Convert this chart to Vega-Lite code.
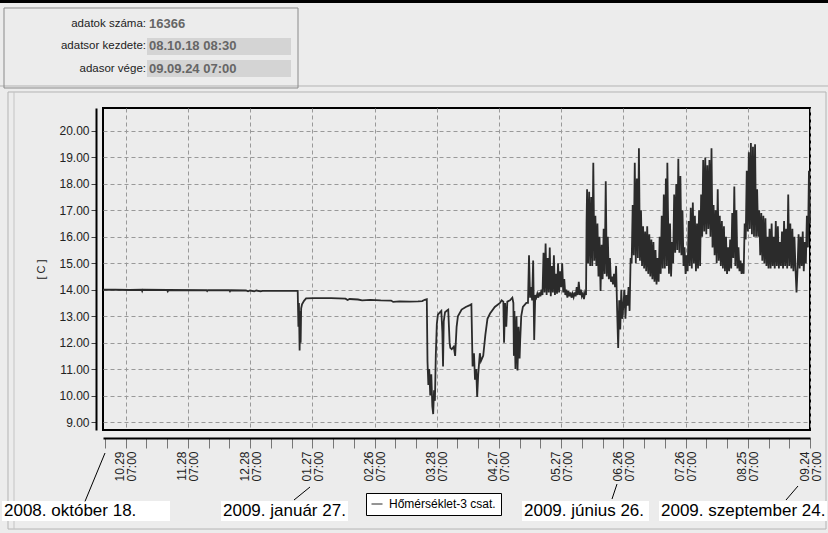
{
  "$schema": "https://vega.github.io/schema/vega-lite/v6.json",
  "width": 707,
  "height": 322,
  "autosize": {"type": "none"},
  "padding": {"left": 103, "top": 108, "right": 18, "bottom": 103},
  "background": "#ececec",
  "config": {
    "font": "Liberation Sans",
    "view": {"stroke": "#000000", "strokeWidth": 2, "fill": "#ececec"}
  },
  "data": {"values": [{}]},
  "layer": [
    {
      "mark": {"type": "rect", "fill": "transparent", "stroke": "#b4b4b4", "strokeWidth": 1},
      "encoding": {
        "x": {"datum": 1220360445000, "type": "temporal"}, "x2": {"datum": 1254442236000},
        "y": {"datum": 21.474, "type": "quantitative"}, "y2": {"datum": 4.955}
      }
    },
    {
      "mark": {"type": "rule", "color": "#c4c4c4", "strokeWidth": 1},
      "encoding": {
        "x": {"datum": 1220610434000, "type": "temporal"},
        "y": {"datum": 21.474, "type": "quantitative"}, "y2": {"datum": 4.955}
      }
    },
    {
      "data": {
        "format": {"parse": {"t": "utc:'%Y-%m-%d %H'"}},
        "values": [
          {"t":"2008-10-18 09","v":14.00},{"t":"2008-10-24 07","v":14.00},{"t":"2008-10-31 07","v":13.99},
          {"t":"2008-11-06 00","v":14.00},{"t":"2008-11-06 06","v":13.95},{"t":"2008-11-06 12","v":14.00},
          {"t":"2008-11-18 06","v":13.99},{"t":"2008-11-18 14","v":13.94},{"t":"2008-11-18 22","v":13.99},
          {"t":"2008-12-07 06","v":13.98},{"t":"2008-12-07 14","v":13.95},{"t":"2008-12-07 22","v":13.98},
          {"t":"2008-12-18 06","v":13.98},{"t":"2008-12-18 14","v":13.94},{"t":"2008-12-18 22","v":13.98},
          {"t":"2008-12-26 07","v":13.97},{"t":"2008-12-27 07","v":13.94},{"t":"2008-12-28 07","v":13.97},
          {"t":"2008-12-30 07","v":13.94},{"t":"2008-12-31 07","v":13.97},{"t":"2009-01-02 07","v":13.94},
          {"t":"2009-01-03 07","v":13.96},{"t":"2009-01-12 07","v":13.96},{"t":"2009-01-20 06","v":13.96},
          {"t":"2009-01-20 14","v":12.6},{"t":"2009-01-20 20","v":13.5},{"t":"2009-01-21 04","v":11.7},
          {"t":"2009-01-21 10","v":13.2},{"t":"2009-01-21 16","v":12.0},{"t":"2009-01-21 22","v":13.3},
          {"t":"2009-01-22 08","v":13.45},{"t":"2009-01-23 07","v":13.58},{"t":"2009-01-24 07","v":13.67},
          {"t":"2009-01-28 07","v":13.68},{"t":"2009-02-05 07","v":13.68},{"t":"2009-02-12 07","v":13.66},
          {"t":"2009-02-13 07","v":13.61},{"t":"2009-02-14 07","v":13.65},{"t":"2009-02-18 07","v":13.63},
          {"t":"2009-02-20 07","v":13.60},{"t":"2009-02-24 07","v":13.62},{"t":"2009-03-01 07","v":13.60},
          {"t":"2009-03-06 07","v":13.59},{"t":"2009-03-07 07","v":13.54},{"t":"2009-03-10 07","v":13.56},
          {"t":"2009-03-15 07","v":13.55},{"t":"2009-03-19 07","v":13.56},{"t":"2009-03-21 07","v":13.57},
          {"t":"2009-03-22 12","v":13.62},{"t":"2009-03-23 12","v":13.64},
          {"t":"2009-03-23 20","v":11.3},{"t":"2009-03-24 06","v":10.4},{"t":"2009-03-24 16","v":11.0},
          {"t":"2009-03-25 04","v":10.0},{"t":"2009-03-25 16","v":10.8},{"t":"2009-03-26 04","v":9.6},
          {"t":"2009-03-26 14","v":9.3},{"t":"2009-03-27 00","v":10.2},{"t":"2009-03-27 10","v":9.8},
          {"t":"2009-03-27 20","v":11.5},{"t":"2009-03-28 08","v":12.7},{"t":"2009-03-28 20","v":13.05},
          {"t":"2009-03-29 12","v":13.12},{"t":"2009-03-30 12","v":13.2},{"t":"2009-03-31 00","v":12.4},
          {"t":"2009-03-31 08","v":11.1},{"t":"2009-03-31 16","v":12.8},{"t":"2009-04-01 07","v":13.15},
          {"t":"2009-04-02 07","v":13.22},{"t":"2009-04-02 20","v":13.25},{"t":"2009-04-03 12","v":12.0},
          {"t":"2009-04-03 20","v":11.8},{"t":"2009-04-04 12","v":11.75},{"t":"2009-04-05 12","v":11.85},
          {"t":"2009-04-06 04","v":11.5},{"t":"2009-04-06 21","v":12.6},{"t":"2009-04-07 12","v":13.0},
          {"t":"2009-04-09 07","v":13.25},{"t":"2009-04-11 07","v":13.35},{"t":"2009-04-13 07","v":13.42},
          {"t":"2009-04-14 00","v":13.45},{"t":"2009-04-14 14","v":11.1},{"t":"2009-04-15 06","v":11.6},
          {"t":"2009-04-15 18","v":10.6},{"t":"2009-04-16 08","v":11.0},{"t":"2009-04-16 19","v":9.95},
          {"t":"2009-04-17 07","v":10.8},{"t":"2009-04-18 02","v":11.6},{"t":"2009-04-18 14","v":11.3},
          {"t":"2009-04-19 17","v":11.5},{"t":"2009-04-20 18","v":12.3},{"t":"2009-04-21 18","v":12.9},
          {"t":"2009-04-23 00","v":13.1},{"t":"2009-04-25 07","v":13.35},{"t":"2009-04-27 19","v":13.5},
          {"t":"2009-04-28 14","v":13.6},{"t":"2009-04-29 10","v":13.55},{"t":"2009-04-29 18","v":12.0},
          {"t":"2009-04-30 06","v":13.5},{"t":"2009-04-30 20","v":12.6},{"t":"2009-05-01 08","v":13.55},
          {"t":"2009-05-02 15","v":13.6},{"t":"2009-05-03 18","v":13.7},{"t":"2009-05-04 06","v":13.5},
          {"t":"2009-05-04 12","v":11.5},{"t":"2009-05-04 18","v":13.2},{"t":"2009-05-05 06","v":11.0},
          {"t":"2009-05-05 18","v":13.0},{"t":"2009-05-06 06","v":10.95},{"t":"2009-05-06 18","v":12.6},
          {"t":"2009-05-07 06","v":11.4},{"t":"2009-05-07 13","v":12.1},{"t":"2009-05-08 01","v":13.0},
          {"t":"2009-05-08 20","v":13.35},{"t":"2009-05-10 12","v":13.5},{"t":"2009-05-11 07","v":13.5},
          {"t":"2009-05-11 19","v":15.3},{"t":"2009-05-12 07","v":13.7},{"t":"2009-05-12 19","v":14.1},
          {"t":"2009-05-13 07","v":13.6},{"t":"2009-05-13 19","v":15.1},{"t":"2009-05-14 07","v":12.1},
          {"t":"2009-05-14 19","v":13.8},
          {"t":"2009-05-15 07","v":13.7},{"t":"2009-05-15 19","v":13.85},{"t":"2009-05-16 07","v":13.7},{"t":"2009-05-16 19","v":13.9},
          {"t":"2009-05-17 07","v":13.75},{"t":"2009-05-17 19","v":14.0},{"t":"2009-05-18 07","v":13.8},{"t":"2009-05-18 19","v":15.4},
          {"t":"2009-05-19 07","v":13.9},{"t":"2009-05-19 19","v":15.75},{"t":"2009-05-20 07","v":13.8},{"t":"2009-05-20 19","v":15.2},
          {"t":"2009-05-21 07","v":13.9},{"t":"2009-05-21 19","v":15.6},{"t":"2009-05-22 07","v":13.75},{"t":"2009-05-22 19","v":14.9},
          {"t":"2009-05-23 07","v":13.9},{"t":"2009-05-23 19","v":15.3},{"t":"2009-05-24 07","v":13.8},{"t":"2009-05-24 19","v":14.6},
          {"t":"2009-05-25 07","v":13.85},{"t":"2009-05-25 19","v":15.0},{"t":"2009-05-26 07","v":13.9},{"t":"2009-05-26 19","v":14.7},
          {"t":"2009-05-27 07","v":14.1},{"t":"2009-05-27 19","v":15.0},{"t":"2009-05-28 07","v":13.9},{"t":"2009-05-28 19","v":14.4},
          {"t":"2009-05-29 07","v":13.8},{"t":"2009-05-29 19","v":14.0},{"t":"2009-05-30 07","v":13.7},{"t":"2009-05-30 19","v":13.95},
          {"t":"2009-05-31 07","v":13.75},{"t":"2009-05-31 19","v":13.9},{"t":"2009-06-01 07","v":13.7},{"t":"2009-06-01 19","v":13.85},
          {"t":"2009-06-02 07","v":13.72},{"t":"2009-06-02 19","v":13.9},{"t":"2009-06-03 07","v":13.75},{"t":"2009-06-03 19","v":14.1},
          {"t":"2009-06-04 07","v":13.8},{"t":"2009-06-04 19","v":14.3},{"t":"2009-06-05 07","v":13.8},{"t":"2009-06-05 19","v":14.0},
          {"t":"2009-06-06 07","v":13.75},{"t":"2009-06-06 19","v":13.85},{"t":"2009-06-07 07","v":13.65},{"t":"2009-06-07 19","v":13.9},
          {"t":"2009-06-08 07","v":13.8},{"t":"2009-06-08 13","v":16.5},{"t":"2009-06-08 19","v":17.8},
          {"t":"2009-06-09 07","v":15.0},{"t":"2009-06-09 19","v":17.7},{"t":"2009-06-10 07","v":14.9},{"t":"2009-06-10 19","v":17.5},
          {"t":"2009-06-11 07","v":14.9},{"t":"2009-06-11 19","v":18.8},{"t":"2009-06-12 07","v":15.1},{"t":"2009-06-12 19","v":16.8},
          {"t":"2009-06-13 07","v":14.9},{"t":"2009-06-13 19","v":16.5},{"t":"2009-06-14 07","v":14.5},{"t":"2009-06-14 19","v":16.0},
          {"t":"2009-06-15 07","v":13.95},{"t":"2009-06-15 19","v":15.7},{"t":"2009-06-16 07","v":14.4},{"t":"2009-06-16 19","v":16.3},
          {"t":"2009-06-17 07","v":14.6},{"t":"2009-06-17 19","v":18.1},{"t":"2009-06-18 07","v":14.5},{"t":"2009-06-18 19","v":16.0},
          {"t":"2009-06-19 07","v":14.4},{"t":"2009-06-19 19","v":15.2},{"t":"2009-06-20 07","v":14.3},{"t":"2009-06-20 19","v":14.5},
          {"t":"2009-06-21 07","v":14.2},{"t":"2009-06-21 19","v":14.6},{"t":"2009-06-22 07","v":14.1},{"t":"2009-06-22 19","v":14.9},
          {"t":"2009-06-23 07","v":13.2},{"t":"2009-06-23 19","v":11.8},{"t":"2009-06-24 07","v":13.6},{"t":"2009-06-24 19","v":12.5},
          {"t":"2009-06-25 07","v":14.0},{"t":"2009-06-25 19","v":12.9},{"t":"2009-06-26 07","v":13.4},{"t":"2009-06-26 19","v":14.0},
          {"t":"2009-06-27 07","v":12.9},{"t":"2009-06-27 19","v":13.8},{"t":"2009-06-28 07","v":13.4},{"t":"2009-06-28 19","v":14.1},
          {"t":"2009-06-29 07","v":13.2},{"t":"2009-06-29 19","v":15.2},{"t":"2009-06-30 07","v":15.0},{"t":"2009-06-30 19","v":17.2},
          {"t":"2009-07-01 07","v":15.3},{"t":"2009-07-01 19","v":18.8},{"t":"2009-07-02 07","v":15.0},{"t":"2009-07-02 19","v":18.2},
          {"t":"2009-07-03 07","v":15.2},{"t":"2009-07-03 19","v":19.35},{"t":"2009-07-04 07","v":15.1},{"t":"2009-07-04 19","v":17.0},
          {"t":"2009-07-05 07","v":14.9},{"t":"2009-07-05 19","v":16.4},{"t":"2009-07-06 07","v":14.8},{"t":"2009-07-06 19","v":16.2},
          {"t":"2009-07-07 07","v":14.7},{"t":"2009-07-07 19","v":16.4},{"t":"2009-07-08 07","v":14.6},{"t":"2009-07-08 19","v":16.1},
          {"t":"2009-07-09 07","v":14.5},{"t":"2009-07-09 19","v":15.9},{"t":"2009-07-10 07","v":14.4},{"t":"2009-07-10 19","v":15.8},
          {"t":"2009-07-11 07","v":14.3},{"t":"2009-07-11 19","v":15.5},{"t":"2009-07-12 07","v":14.2},{"t":"2009-07-12 19","v":15.2},
          {"t":"2009-07-13 07","v":14.3},{"t":"2009-07-13 19","v":16.0},{"t":"2009-07-14 07","v":14.6},{"t":"2009-07-14 19","v":16.8},
          {"t":"2009-07-15 07","v":14.8},{"t":"2009-07-15 19","v":17.6},{"t":"2009-07-16 07","v":14.8},{"t":"2009-07-16 19","v":18.2},
          {"t":"2009-07-17 07","v":14.9},{"t":"2009-07-17 12","v":18.8},{"t":"2009-07-17 19","v":17.0},
          {"t":"2009-07-18 07","v":14.6},{"t":"2009-07-18 19","v":16.5},{"t":"2009-07-19 07","v":14.5},{"t":"2009-07-19 19","v":15.8},
          {"t":"2009-07-20 07","v":15.0},{"t":"2009-07-20 19","v":17.6},{"t":"2009-07-21 07","v":15.4},{"t":"2009-07-21 19","v":18.0},
          {"t":"2009-07-22 07","v":15.5},{"t":"2009-07-22 19","v":18.95},{"t":"2009-07-23 07","v":15.4},{"t":"2009-07-23 19","v":18.3},
          {"t":"2009-07-24 07","v":15.3},{"t":"2009-07-24 19","v":17.0},{"t":"2009-07-25 07","v":14.9},{"t":"2009-07-25 19","v":15.6},
          {"t":"2009-07-26 07","v":14.6},{"t":"2009-07-26 19","v":15.3},{"t":"2009-07-27 07","v":14.7},{"t":"2009-07-27 19","v":16.6},
          {"t":"2009-07-28 07","v":14.9},{"t":"2009-07-28 19","v":17.1},{"t":"2009-07-29 07","v":14.8},{"t":"2009-07-29 19","v":17.3},
          {"t":"2009-07-30 07","v":15.0},{"t":"2009-07-30 19","v":16.8},{"t":"2009-07-31 07","v":14.7},{"t":"2009-07-31 19","v":16.5},
          {"t":"2009-08-01 07","v":14.8},{"t":"2009-08-01 19","v":17.0},{"t":"2009-08-02 07","v":14.9},{"t":"2009-08-02 19","v":17.6},
          {"t":"2009-08-03 07","v":16.0},{"t":"2009-08-03 19","v":18.9},{"t":"2009-08-04 07","v":16.2},{"t":"2009-08-04 19","v":19.0},
          {"t":"2009-08-05 07","v":16.1},{"t":"2009-08-05 19","v":18.7},{"t":"2009-08-06 07","v":16.3},{"t":"2009-08-06 19","v":18.9},
          {"t":"2009-08-07 07","v":16.0},{"t":"2009-08-07 19","v":19.35},{"t":"2009-08-08 07","v":15.6},{"t":"2009-08-08 19","v":17.2},
          {"t":"2009-08-09 07","v":15.3},{"t":"2009-08-09 19","v":17.0},{"t":"2009-08-10 07","v":15.0},{"t":"2009-08-10 19","v":17.8},
          {"t":"2009-08-11 07","v":15.1},{"t":"2009-08-11 19","v":16.8},{"t":"2009-08-12 07","v":14.9},{"t":"2009-08-12 19","v":16.6},
          {"t":"2009-08-13 07","v":14.8},{"t":"2009-08-13 19","v":16.4},{"t":"2009-08-14 07","v":14.7},{"t":"2009-08-14 19","v":16.0},
          {"t":"2009-08-15 07","v":14.6},{"t":"2009-08-15 19","v":15.6},{"t":"2009-08-16 07","v":14.7},{"t":"2009-08-16 19","v":15.9},
          {"t":"2009-08-17 07","v":14.8},{"t":"2009-08-17 19","v":16.9},{"t":"2009-08-18 07","v":15.2},{"t":"2009-08-18 19","v":17.9},
          {"t":"2009-08-19 07","v":14.9},{"t":"2009-08-19 19","v":17.0},{"t":"2009-08-20 07","v":14.8},{"t":"2009-08-20 19","v":15.6},
          {"t":"2009-08-21 07","v":14.7},{"t":"2009-08-21 19","v":15.1},{"t":"2009-08-22 07","v":14.6},{"t":"2009-08-22 19","v":15.0},
          {"t":"2009-08-23 07","v":14.6},{"t":"2009-08-23 19","v":16.5},{"t":"2009-08-24 07","v":15.9},{"t":"2009-08-24 19","v":18.5},
          {"t":"2009-08-25 07","v":16.2},{"t":"2009-08-25 19","v":19.2},{"t":"2009-08-26 07","v":16.3},{"t":"2009-08-26 19","v":19.55},
          {"t":"2009-08-27 07","v":16.1},{"t":"2009-08-27 19","v":19.4},{"t":"2009-08-28 07","v":16.0},{"t":"2009-08-28 19","v":19.5},
          {"t":"2009-08-29 07","v":16.0},{"t":"2009-08-29 19","v":17.8},{"t":"2009-08-30 07","v":16.0},{"t":"2009-08-30 19","v":17.0},
          {"t":"2009-08-31 07","v":15.3},{"t":"2009-08-31 19","v":16.9},{"t":"2009-09-01 07","v":15.1},{"t":"2009-09-01 19","v":16.8},
          {"t":"2009-09-02 07","v":15.0},{"t":"2009-09-02 19","v":16.7},{"t":"2009-09-03 07","v":14.9},{"t":"2009-09-03 19","v":16.0},
          {"t":"2009-09-04 07","v":14.8},{"t":"2009-09-04 19","v":16.3},{"t":"2009-09-05 07","v":14.8},{"t":"2009-09-05 19","v":16.5},
          {"t":"2009-09-06 07","v":14.9},{"t":"2009-09-06 19","v":16.0},{"t":"2009-09-07 07","v":14.8},{"t":"2009-09-07 19","v":16.6},
          {"t":"2009-09-08 07","v":14.9},{"t":"2009-09-08 19","v":16.4},{"t":"2009-09-09 07","v":14.8},{"t":"2009-09-09 19","v":15.8},
          {"t":"2009-09-10 07","v":14.9},{"t":"2009-09-10 19","v":16.2},{"t":"2009-09-11 07","v":14.8},{"t":"2009-09-11 19","v":16.6},
          {"t":"2009-09-12 07","v":14.9},{"t":"2009-09-12 19","v":16.3},{"t":"2009-09-13 07","v":14.8},{"t":"2009-09-13 19","v":17.6},
          {"t":"2009-09-14 07","v":14.9},{"t":"2009-09-14 19","v":16.5},{"t":"2009-09-15 07","v":14.8},{"t":"2009-09-15 19","v":16.3},
          {"t":"2009-09-16 07","v":14.7},{"t":"2009-09-16 19","v":16.0},{"t":"2009-09-17 07","v":14.8},{"t":"2009-09-17 19","v":13.9},
          {"t":"2009-09-18 07","v":14.8},{"t":"2009-09-18 19","v":16.1},{"t":"2009-09-19 07","v":14.8},{"t":"2009-09-19 19","v":16.0},
          {"t":"2009-09-20 07","v":14.9},{"t":"2009-09-20 19","v":16.2},{"t":"2009-09-21 07","v":14.7},{"t":"2009-09-21 19","v":15.8},
          {"t":"2009-09-22 07","v":15.0},{"t":"2009-09-22 19","v":16.8},{"t":"2009-09-23 07","v":15.6},{"t":"2009-09-23 19","v":18.5},
          {"t":"2009-09-24 07","v":16.5}
        ]
      },
      "mark": {"type": "line", "strokeWidth": 1.8},
      "encoding": {
        "x": {
          "field": "t", "type": "temporal",
          "scale": {"type": "utc", "domain": [1224318600000, 1253775600000], "nice": false},
          "axis": {
            "title": null, "offset": 8, "tickCount": 200,
            "values": [1224399600000,1225263600000,1226127600000,1226991600000,1227855600000,1228719600000,1229583600000,1230447600000,1231311600000,1232175600000,1233039600000,1233903600000,1234767600000,1235631600000,1236495600000,1237359600000,1238223600000,1239087600000,1239951600000,1240815600000,1241679600000,1242543600000,1243407600000,1244271600000,1245135600000,1245999600000,1246863600000,1247727600000,1248591600000,1249455600000,1250319600000,1251183600000,1252047600000,1252911600000,1253775600000],
            "domainColor": "#000000", "domainWidth": 2,
            "tickColor": "#777777", "tickSize": 10, "tickWidth": 1,
            "grid": true, "gridColor": "#999999", "gridDash": [4, 3], "gridWidth": 1,
            "gridOpacity": {"condition": {"test": "round((datum.value - 1224399600000) / 864000000) % 3 == 1", "value": 1}, "value": 0},
            "labelAngle": 270, "labelOffset": -6,
            "labelExpr": "round((datum.value - 1224399600000) / 864000000) % 3 == 1 ? [utcFormat(datum.value, '%m.%d'), '07:00'] : ''",
            "labelFontSize": 12, "labelColor": "#222222", "labelPadding": 3, "labelLineHeight": 12,
            "labelOverlap": false, "labelFlush": false, "labelBound": false
          }
        },
        "y": {
          "field": "v", "type": "quantitative",
          "scale": {"domain": [8.698, 20.869], "nice": false, "zero": false},
          "axis": {
            "title": "[ C ]", "titleFontSize": 11, "titleFontWeight": "normal", "titleColor": "#222222", "titlePadding": 12,
            "offset": 7, "tickCount": 100, "values": [9,10,11,12,13,14,15,16,17,18,19,20], "format": ".2f",
            "domainColor": "#000000", "domainWidth": 2,
            "tickColor": "#444444", "tickSize": 5,
            "grid": true, "gridColor": "#999999", "gridDash": [4, 3],
            "labelFontSize": 12, "labelColor": "#222222", "labelPadding": 2, "labelOverlap": false
          }
        },
        "color": {
          "datum": "Hőmérséklet-3 csat.",
          "scale": {"range": ["#2b2b2b"]},
          "legend": {
            "orient": "none", "legendX": 263, "legendY": 385, "title": null,
            "symbolType": "stroke", "symbolStrokeWidth": 1, "symbolSize": 121, "symbolStrokeColor": "#000000",
            "labelFontSize": 12, "labelColor": "#000000", "labelOffset": 6,
            "fillColor": "#ffffff", "strokeColor": "#000000", "padding": 5
          }
        }
      }
    },
    {
      "mark": {"type": "rule", "color": "#000000", "strokeWidth": 3},
      "encoding": {
        "x": {"datum": 1220027127582, "type": "temporal"}, "x2": {"datum": 1254525566051},
        "y": {"datum": 24.895, "type": "quantitative"}
      }
    },
    {
      "mark": {"type": "rule", "color": "#b4b4b4", "strokeWidth": 1},
      "encoding": {
        "x": {"datum": 1220027127582, "type": "temporal"}, "x2": {"datum": 1254525566051},
        "y": {"datum": 21.701, "type": "quantitative"}
      }
    },
    {
      "mark": {"type": "rect", "fill": "transparent", "stroke": "#8a8a8a", "strokeWidth": 1},
      "encoding": {
        "x": {"datum": 1220193786705, "type": "temporal"}, "x2": {"datum": 1232443232248},
        "y": {"datum": 24.649, "type": "quantitative"}, "y2": {"datum": 21.625}
      }
    },
    {
      "mark": {"type": "rect", "fill": "#d4d4d4"},
      "encoding": {
        "x": {"datum": 1226151850353, "type": "temporal"}, "x2": {"datum": 1232151578783},
        "y": {"datum": 23.515, "type": "quantitative"}, "y2": {"datum": 22.873}
      }
    },
    {
      "mark": {"type": "rect", "fill": "#d4d4d4"},
      "encoding": {
        "x": {"datum": 1226151850353, "type": "temporal"}, "x2": {"datum": 1232151578783},
        "y": {"datum": 22.684, "type": "quantitative"}, "y2": {"datum": 22.041}
      }
    },
    {
      "mark": {"type": "text", "align": "right", "baseline": "middle", "fontSize": 11.5, "color": "#222222", "lineHeight": 22.5,
               "text": ["adatok száma:", "adatsor kezdete:", "adasor vége:"]},
      "encoding": {
        "x": {"datum": 1226110185573, "type": "temporal"},
        "y": {"datum": 24.045, "type": "quantitative"}
      }
    },
    {
      "mark": {"type": "text", "align": "left", "baseline": "middle", "fontSize": 13, "fontWeight": "bold", "color": "#666666", "lineHeight": 22.5,
               "text": ["16366", "08.10.18 08:30", "09.09.24 07:00"]},
      "encoding": {
        "x": {"datum": 1226235179915, "type": "temporal"},
        "y": {"datum": 24.045, "type": "quantitative"}
      }
    },
    {
      "mark": {"type": "rect", "fill": "#ffffff"},
      "encoding": {
        "x": {"datum": 1220110457143, "type": "temporal"}, "x2": {"datum": 1227110140311},
        "y": {"datum": 6.014, "type": "quantitative"}, "y2": {"datum": 5.258}
      }
    },
    {
      "mark": {"type": "rect", "fill": "#ffffff"},
      "encoding": {
        "x": {"datum": 1229235044130, "type": "temporal"}, "x2": {"datum": 1234526471286},
        "y": {"datum": 6.014, "type": "quantitative"}, "y2": {"datum": 5.258}
      }
    },
    {
      "mark": {"type": "rect", "fill": "#ffffff"},
      "encoding": {
        "x": {"datum": 1241776143138, "type": "temporal"}, "x2": {"datum": 1247067570295},
        "y": {"datum": 6.014, "type": "quantitative"}, "y2": {"datum": 5.258}
      }
    },
    {
      "mark": {"type": "rect", "fill": "#ffffff"},
      "encoding": {
        "x": {"datum": 1247484218103, "type": "temporal"}, "x2": {"datum": 1254483901270},
        "y": {"datum": 6.014, "type": "quantitative"}, "y2": {"datum": 5.258}
      }
    },
    {
      "mark": {"type": "rule", "color": "#000000", "strokeWidth": 1},
      "encoding": {
        "x": {"datum": 1224401929562, "type": "temporal"}, "x2": {"datum": 1223568633946},
        "y": {"datum": 7.828, "type": "quantitative"}, "y2": {"datum": 6.0}
      }
    },
    {
      "mark": {"type": "rule", "color": "#000000", "strokeWidth": 1},
      "encoding": {
        "x": {"datum": 1232943209617, "type": "temporal"}, "x2": {"datum": 1232276573125},
        "y": {"datum": 6.543, "type": "quantitative"}, "y2": {"datum": 6.052}
      }
    },
    {
      "mark": {"type": "rule", "color": "#000000", "strokeWidth": 1},
      "encoding": {
        "x": {"datum": 1245734297311, "type": "temporal"}, "x2": {"datum": 1245525973407},
        "y": {"datum": 6.656, "type": "quantitative"}, "y2": {"datum": 6.089}
      }
    },
    {
      "mark": {"type": "rule", "color": "#000000", "strokeWidth": 1},
      "encoding": {
        "x": {"datum": 1253275622628, "type": "temporal"}, "x2": {"datum": 1252775645259},
        "y": {"datum": 6.581, "type": "quantitative"}, "y2": {"datum": 6.052}
      }
    },
    {
      "mark": {"type": "text", "align": "left", "baseline": "middle", "fontSize": 17, "color": "#000000", "text": "2008. október 18."},
      "encoding": {"x": {"datum": 1220193786705, "type": "temporal"}, "y": {"datum": 5.636, "type": "quantitative"}}
    },
    {
      "mark": {"type": "text", "align": "left", "baseline": "middle", "fontSize": 17, "color": "#000000", "text": "2009. január 27."},
      "encoding": {"x": {"datum": 1229318373691, "type": "temporal"}, "y": {"datum": 5.636, "type": "quantitative"}}
    },
    {
      "mark": {"type": "text", "align": "left", "baseline": "middle", "fontSize": 17, "color": "#000000", "text": "2009. június 26."},
      "encoding": {"x": {"datum": 1241859472700, "type": "temporal"}, "y": {"datum": 5.636, "type": "quantitative"}}
    },
    {
      "mark": {"type": "text", "align": "left", "baseline": "middle", "fontSize": 17, "color": "#000000", "text": "2009. szeptember 24."},
      "encoding": {"x": {"datum": 1247567547664, "type": "temporal"}, "y": {"datum": 5.636, "type": "quantitative"}}
    }
  ]
}
